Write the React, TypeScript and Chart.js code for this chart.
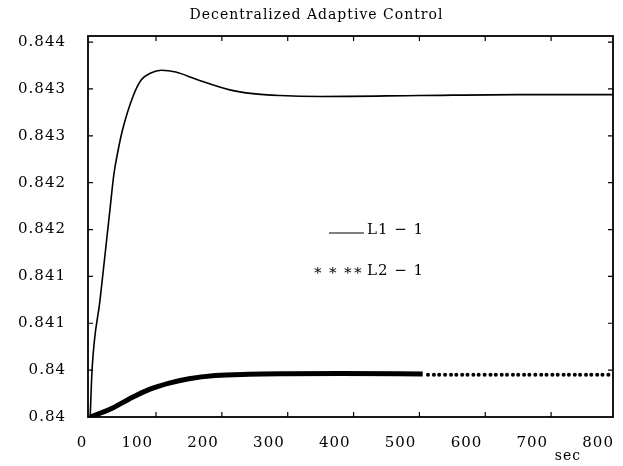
import React, { useEffect, useRef } from "react";
import { Chart, registerables } from "chart.js";

Chart.register(...registerables);

const titleText = "Decentralized Adaptive Control";
const xUnitLabel = "sec";
const seriesLabels = ["L1 \u2212 1", "L2 \u2212 1"];

const xTickValues = [0, 100, 200, 300, 400, 500, 600, 700, 800];
const xTickLabels = ["0", "100", "200", "300", "400", "500", "600", "700", "800"];
const yTickValues = [0.84, 0.8405, 0.841, 0.8415, 0.842, 0.8425, 0.843, 0.8435, 0.844];
const yTickLabels = ["0.84", "0.84", "0.841", "0.841", "0.842", "0.842", "0.843", "0.843", "0.844"];

const l1Time = [0, 3, 15, 30, 36, 42, 49, 65, 78, 92, 108, 130, 162, 212, 247, 288, 350, 500, 650, 794];
const l1Value = [
  0.84, 0.84052, 0.84125, 0.84221, 0.84259, 0.84283, 0.84306, 0.84342, 0.8436, 0.84367, 0.8437,
  0.84368, 0.8436, 0.84349, 0.84345, 0.84343, 0.84342, 0.84343, 0.84344, 0.84344,
];

// L2: densely sampled part (a thick run of markers), then sparse markers
const l2Time = [
  0, 15, 35, 60, 90, 120, 150, 190, 240, 300, 380, 505,
  513, 522, 530, 539, 548, 556, 565, 573, 582, 590, 599, 608, 616, 625, 633, 642, 650,
  659, 667, 676, 685, 693, 702, 710, 719, 727, 736, 744, 753, 761, 770, 778, 787,
];
const l2Value = [
  0.84, 0.84004, 0.8401, 0.840195, 0.840295, 0.840362, 0.840408, 0.840442, 0.840456, 0.840462, 0.840465, 0.84046,
  0.84045, 0.84045, 0.84045, 0.84045, 0.84045, 0.84045, 0.84045, 0.84045, 0.84045, 0.84045, 0.84045,
  0.84045, 0.84045, 0.84045, 0.84045, 0.84045, 0.84045, 0.84045, 0.84045, 0.84045, 0.84045, 0.84045,
  0.84045, 0.84045, 0.84045, 0.84045, 0.84045, 0.84045, 0.84045, 0.84045, 0.84045, 0.84045, 0.84045,
];
const l2DenseEnd = 505;

const FONT = "'DejaVu Serif', serif";
const SPACING = "1px";

const spacingPlugin = {
  id: "letterSpacing",
  beforeUpdate(chart: any) {
    chart.ctx.letterSpacing = SPACING;
  },
  beforeDraw(chart: any) {
    chart.ctx.letterSpacing = SPACING;
  },
};

const framePlugin = {
  id: "frame",
  afterDatasetsDraw(chart: any) {
    const { ctx, chartArea } = chart;
    const { left, right, top, bottom } = chartArea;
    const xs = chart.scales.x;
    const ys = chart.scales.y;
    ctx.save();
    ctx.strokeStyle = "#000";
    ctx.lineWidth = 1.8;
    ctx.strokeRect(left, top, right - left, bottom - top);
    ctx.lineWidth = 1.2;
    const tick = 5;
    ctx.beginPath();
    xTickValues.forEach((v) => {
      const px = xs.getPixelForValue(v);
      if (px <= left + 3 || px >= right - 3) return;
      ctx.moveTo(px, bottom);
      ctx.lineTo(px, bottom - tick);
      ctx.moveTo(px, top);
      ctx.lineTo(px, top + tick);
    });
    yTickValues.forEach((v) => {
      const py = ys.getPixelForValue(v);
      if (py <= top + 3 || py >= bottom - 3) return;
      ctx.moveTo(left, py);
      ctx.lineTo(left + tick, py);
      ctx.moveTo(right, py);
      ctx.lineTo(right - tick, py);
    });
    ctx.stroke();
    ctx.restore();
  },
  afterDraw(chart: any) {
    const { ctx, chartArea } = chart;
    ctx.save();
    ctx.fillStyle = "#000";
    ctx.strokeStyle = "#000";
    ctx.font = `14px ${FONT}`;
    ctx.textAlign = "center";
    ctx.textBaseline = "middle";
    ctx.fillText(xUnitLabel, chartArea.right - 45, 456);

    ctx.font = `15px ${FONT}`;
    ctx.textAlign = "left";
    ctx.lineWidth = 1.2;
    ctx.beginPath();
    ctx.moveTo(329, 233);
    ctx.lineTo(364, 233);
    ctx.stroke();
    ctx.fillText(seriesLabels[0], 367, 230);

    ctx.textAlign = "center";
    [318, 333, 348, 358].forEach((cx) => ctx.fillText("\u2217", cx, 271));
    ctx.textAlign = "left";
    ctx.fillText(seriesLabels[1], 367, 271);
    ctx.restore();
  },
};

export default function App() {
  const canvasRef = useRef<HTMLCanvasElement | null>(null);

  useEffect(() => {
    document.body.style.margin = "0";
    const canvas = canvasRef.current;
    if (!canvas) return;

    const l1Data = l1Time.map((t, i) => ({ x: t, y: l1Value[i] }));
    const l2Data = l2Time.map((t, i) => ({ x: t, y: l2Value[i] }));

    const chart = new Chart(canvas, {
      type: "line",
      data: {
        datasets: [
          {
            label: seriesLabels[0],
            data: l1Data,
            borderColor: "#000",
            borderWidth: 1.6,
            pointRadius: 0,
            cubicInterpolationMode: "monotone",
            fill: false,
          },
          {
            label: seriesLabels[1],
            data: l2Data,
            borderColor: "#000",
            borderWidth: 5,
            pointRadius: (c: any) => (c.raw && c.raw.x > l2DenseEnd ? 2 : 0),
            pointBackgroundColor: "#000",
            pointBorderWidth: 0,
            pointHoverRadius: 0,
            cubicInterpolationMode: "monotone",
            fill: false,
            segment: {
              borderColor: (c: any) => (c.p1.parsed.x > l2DenseEnd ? "rgba(0,0,0,0)" : undefined),
            },
          },
        ],
      },
      options: {
        responsive: false,
        animation: false,
        events: [],
        layout: { padding: { left: 10, right: 0, top: 0, bottom: 0 } },
        plugins: {
          legend: { display: false },
          tooltip: { enabled: false },
          title: {
            display: true,
            text: titleText,
            color: "#000",
            font: { family: FONT, size: 14, weight: "normal" },
            padding: { top: 7, bottom: 12.2 },
          },
        },
        scales: {
          x: {
            type: "linear",
            min: -3.3,
            max: 794,
            grid: { display: false, drawTicks: false },
            border: { display: false },
            afterBuildTicks: (scale: any) => {
              scale.ticks = xTickValues.map((v) => ({ value: v }));
            },
            afterFit: (scale: any) => {
              scale.height = 49;
              scale.paddingRight = 10;
            },
            ticks: {
              autoSkip: false,
              maxRotation: 0,
              minRotation: 0,
              align: "end",
              labelOffset: -3,
              padding: 17,
              color: "#000",
              font: { family: FONT, size: 15 },
              callback: (_v: any, i: number) => xTickLabels[i],
            },
          },
          y: {
            type: "linear",
            min: 0.84,
            max: 0.844065,
            grid: { display: false, drawTicks: false },
            border: { display: false },
            afterBuildTicks: (scale: any) => {
              scale.ticks = yTickValues.map((v) => ({ value: v }));
            },
            afterFit: (scale: any) => {
              scale.width = 78;
            },
            ticks: {
              autoSkip: false,
              padding: 22,
              color: "#000",
              font: { family: FONT, size: 15 },
              callback: (_v: any, i: number) => yTickLabels[i],
            },
          },
        },
      },
      plugins: [spacingPlugin, framePlugin],
    } as any);

    return () => chart.destroy();
  }, []);

  return <canvas ref={canvasRef} width={623} height={466} style={{ display: "block" }} />;
}
